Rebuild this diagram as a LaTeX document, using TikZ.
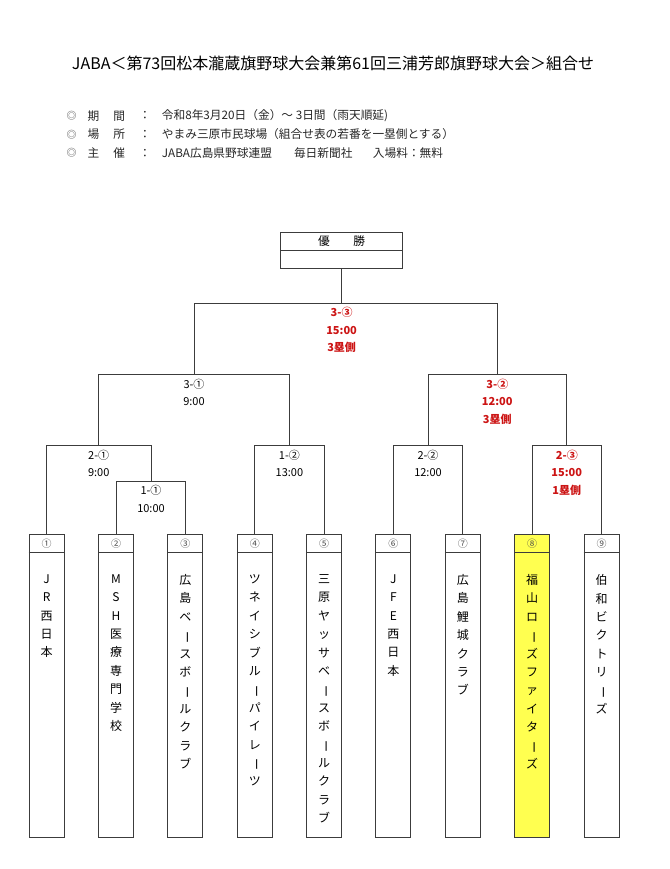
\documentclass[tikz,border=0pt]{standalone}
\usepackage{fontspec}
\setmainfont{Noto Sans CJK JP}
\usetikzlibrary{positioning}
\definecolor{linegray}{RGB}{60,60,60}
\definecolor{matchred}{RGB}{204,20,20}
\definecolor{teamyellow}{RGB}{255,255,80}
\newcommand\chouon{\rotatebox[origin=c]{-90}{ー}}

\begin{document}
\begin{tikzpicture}
  [x=1pt,y=-1pt,
   every node/.style={inner sep=0pt},
   wire/.style={draw=linegray,line width=1pt},
   boxline/.style={draw=linegray,line width=1pt},
   teambox/.style={boxline,minimum width=35pt,minimum height=302.4pt,anchor=north},
   teamno/.style={font=\fontsize{10pt}{10pt}\selectfont,text=black!70},
   teamname/.style={anchor=north,align=center,font=\fontsize{12pt}{18.4pt}\selectfont},
   matchlabel/.style={align=center,font=\fontsize{11pt}{17.4pt}\selectfont},
   redlabel/.style={align=center,text=matchred,font=\fontsize{11pt}{17.4pt}\selectfont\bfseries},
   infotext/.style={font=\fontsize{11.7pt}{11.7pt}\selectfont,text=black!85},
   infodot/.style={font=\fontsize{10pt}{10pt}\selectfont\bfseries,text=black!55},
   titletext/.style={font=\fontsize{16pt}{16pt}\selectfont}]
  \useasboundingbox (0,0) rectangle (669,869);

  \node[titletext] (title) at (333,63.3) {JABA＜第73回松本瀧蔵旗野球大会兼第61回三浦芳郎旗野球大会＞組合せ};

  \node[infodot] (d1) at (71.5,115.7) {◎};
  \node[infotext] (k1) at (106.3,115.7) {期\hspace{14pt}間};
  \node[infotext] (c1) at (145,115.7) {：};
  \node[infotext,anchor=west] (v1) at (161.7,115.7) {令和8年3月20日（金）～ 3日間（雨天順延)};
  \node[infodot] (d2) at (71.5,134.3) {◎};
  \node[infotext] (k2) at (106.3,134.3) {場\hspace{14pt}所};
  \node[infotext] (c2) at (145,134.3) {：};
  \node[infotext,anchor=west] (v2) at (161.7,134.3) {やまみ三原市民球場（組合せ表の若番を一塁側とする）};
  \node[infodot] (d3) at (71.5,153) {◎};
  \node[infotext] (k3) at (106.3,153) {主\hspace{14pt}催};
  \node[infotext] (c3) at (145,153) {：};
  \node[infotext,anchor=west] (v3) at (161.7,153) {JABA広島県野球連盟};
  \node[infotext,anchor=west] (v4) at (293.8,153) {毎日新聞社};
  \node[infotext,anchor=west] (v5) at (372.7,153) {入場料：無料};

  \node[boxline,minimum width=121.3pt,minimum height=36pt] (champ) at (341.6,250.3) {};
  \draw[wire] (champ.west) -- (champ.east);
  \node[infotext,text=black] (champtext) at ([yshift=9pt]champ.center) {優　　勝};

  \foreach \i/\fc/\num/\name in {
      1/white/①/{J\\R\\西\\日\\本},
      2/white/②/{M\\S\\H\\医\\療\\専\\門\\学\\校},
      3/white/③/{広\\島\\ベ\\\chouon\\ス\\ボ\\\chouon\\ル\\ク\\ラ\\ブ},
      4/white/④/{ツ\\ネ\\イ\\シ\\ブ\\ル\\\chouon\\パ\\イ\\レ\\\chouon\\ツ},
      5/white/⑤/{三\\原\\ヤ\\ッ\\サ\\ベ\\\chouon\\ス\\ボ\\\chouon\\ル\\ク\\ラ\\ブ},
      6/white/⑥/{J\\F\\E\\西\\日\\本},
      7/white/⑦/{広\\島\\鯉\\城\\ク\\ラ\\ブ},
      8/teamyellow/⑧/{福\\山\\ロ\\\chouon\\ズ\\フ\\ァ\\イ\\タ\\\chouon\\ズ},
      9/white/⑨/{伯\\和\\ビ\\ク\\ト\\リ\\\chouon\\ズ}} {
    \node[teambox,fill=\fc] (t\i) at ({46.7+69.35*(\i-1)},534.3) {};
    \draw[wire] ([yshift=-18pt]t\i.north west) -- ([yshift=-18pt]t\i.north east);
    \node[teamno] (n\i) at ([yshift=-9pt]t\i.north) {\num};
    \node[teamname] (nm\i) at ([yshift=-40pt]t\i.north) {\name};
  }

  \coordinate (m11) at (151,481.3);
  \coordinate (m21) at (98.7,445.7);
  \coordinate (m12) at (289.4,445.7);
  \coordinate (m22) at (428,445.7);
  \coordinate (m23) at (566.8,445.7);
  \coordinate (m31) at (194,374.7);
  \coordinate (m32) at (497.3,374.7);
  \coordinate (m33) at (341.6,303.3);

  \draw[wire] (t2.north) |- (m11) -| (t3.north);
  \draw[wire] (t1.north) |- (m21) -| (m11);
  \draw[wire] (t4.north) |- (m12) -| (t5.north);
  \draw[wire] (t6.north) |- (m22) -| (t7.north);
  \draw[wire] (t8.north) |- (m23) -| (t9.north);
  \draw[wire] (m21) |- (m31) -| (m12);
  \draw[wire] (m22) |- (m32) -| (m23);
  \draw[wire] (m31) |- (m33) -| (m32);
  \draw[wire] (champ.south) -- (m33);

  \node[matchlabel,below=4pt of m11] (l11) {1-①\\10:00};
  \node[matchlabel,below=4pt of m21] (l21) {2-①\\9:00};
  \node[matchlabel,below=4pt of m12] (l12) {1-②\\13:00};
  \node[matchlabel,below=4pt of m22] (l22) {2-②\\12:00};
  \node[redlabel,below=4pt of m23] (l23) {2-③\\15:00\\1塁側};
  \node[matchlabel,below=4pt of m31] (l31) {3-①\\9:00};
  \node[redlabel,below=4pt of m32] (l32) {3-②\\12:00\\3塁側};
  \node[redlabel,below=4pt of m33] (l33) {3-③\\15:00\\3塁側};
\end{tikzpicture}
\end{document}
